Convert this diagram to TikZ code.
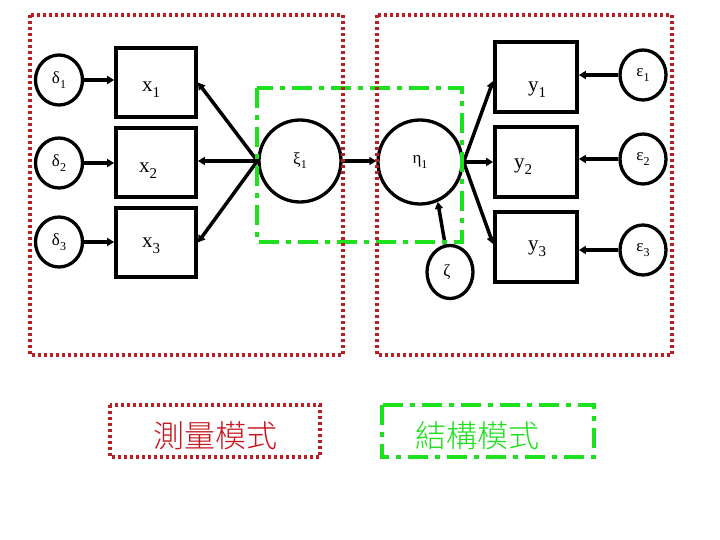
\documentclass[tikz,border=0pt]{standalone}
\usepackage{fontspec}
\setmainfont{Liberation Serif}
\newfontfamily\cjk{Noto Sans CJK TC Light}
\usetikzlibrary{arrows.meta,shapes.geometric}
\definecolor{dred}{RGB}{185,30,35}
\definecolor{lred}{RGB}{200,20,30}
\definecolor{lgreen}{RGB}{30,225,30}
\newcommand{\sbs}[1]{\raisebox{-0.3em}{\fontsize{15}{15}\selectfont #1}}
\newcommand{\gsb}[1]{\raisebox{-0.25em}{\fontsize{12}{12}\selectfont #1}}
\begin{document}
\begin{tikzpicture}[x=1pt,y=-1pt,
 obs/.style={draw,line width=3.8pt,minimum width=80pt,minimum height=69pt,inner sep=0pt},
 lat/.style={draw,fill=white,circle,line width=3.3pt,minimum size=82pt,inner sep=0pt,font=\fontsize{17}{19}\selectfont},
 err/.style={draw,fill=white,ellipse,line width=3.3pt,minimum width=46pt,minimum height=50pt,inner sep=0pt,font=\fontsize{17}{19}\selectfont},
 arr/.style={line width=3.5pt,-{Triangle[length=7pt,width=8pt]}},
 redbox/.style={draw=dred,line width=4pt,dash pattern=on 3pt off 3pt},
 greenbox/.style={draw=lgreen,line width=4pt,dash pattern=on 20pt off 7pt on 5pt off 7pt},
 big/.style={font=\fontsize{21}{24}\selectfont}]
\fill[white] (0,0) rectangle (720,540);
\useasboundingbox (0,0) rectangle (720,540);

% observed boxes
\node[obs] (x1) at (156,82.5) {};
\node[obs] (x2) at (156,162.5) {};
\node[obs] (x3) at (156,242.5) {};
\node[obs,minimum width=82pt,minimum height=70pt] (y1) at (536,77) {};
\node[obs,minimum width=82pt,minimum height=70pt] (y2) at (536,162) {};
\node[obs,minimum width=82pt,minimum height=70pt] (y3) at (536,247) {};
\node[big] (lx1) at (151,90) {x\sbs{1}};
\node[big] (lx2) at (148,171) {x\sbs{2}};
\node[big] (lx3) at (151,246) {x\sbs{3}};
\node[big] (ly1) at (537,90) {y\sbs{1}};
\node[big] (ly2) at (523,167) {y\sbs{2}};
\node[big] (ly3) at (537,249) {y\sbs{3}};

% error terms
\node[err,minimum width=47pt,minimum height=50pt] (d1) at (59,80) {δ\gsb{1}};
\node[err,minimum width=47pt,minimum height=50pt] (d2) at (59,163) {δ\gsb{2}};
\node[err,minimum width=47pt,minimum height=50pt] (d3) at (59,242) {δ\gsb{3}};
\node[err] (e1) at (643,75) {\raisebox{4pt}{ε\gsb{1}}};
\node[err] (e2) at (643,159) {ε\gsb{2}};
\node[err] (e3) at (643,250) {ε\gsb{3}};
\node[err,minimum width=46pt,minimum height=53pt] (zeta) at (450,272) {\raisebox{-4pt}{\hspace{-6pt}ζ}};

% latent variables
\node[lat] (xi) at (300,161) {\raisebox{5pt}{ξ\gsb{1}}};
\node[lat,minimum size=84pt] (eta) at (420,162) {\raisebox{-3pt}{η\gsb{1}}};

% connectors
\draw[arr] (d1.east) -- (d1.east -| x1.west);
\draw[arr] (d2.east) -- (d2.east -| x2.west);
\draw[arr] (d3.east) -- (d3.east -| x3.west);
\draw[arr] (xi.west) -- (x1.east);
\draw[arr] (xi.west) -- (xi.west -| x2.east);
\draw[arr] (xi.west) -- (x3.east);
\draw[arr] (xi.east) -- (xi.east -| eta.west);
\draw[arr] (eta.east) -- ([yshift=-4pt]y1.west);
\draw[arr] (eta.east) -- (eta.east -| y2.west);
\draw[arr] (eta.east) -- ([yshift=3pt]y3.west);
\draw[arr] (zeta.100) -- (eta.-66);
\draw[arr] (e1.west) -- (e1.west -| y1.east);
\draw[arr] (e2.west) -- (e2.west -| y2.east);
\draw[arr] (e3.west) -- (e3.west -| y3.east);

% grouping boxes
\draw[greenbox] (257,88) rectangle (462,242);
\draw[redbox] (30,15) rectangle (343,355);
\draw[redbox] (377,15) rectangle (672,355);

% legend
\draw[redbox] (110,405) rectangle (320,457);
\draw[greenbox] (382,405) rectangle (594,457);
\node[font=\cjk\fontsize{31}{33}\selectfont, text=lred] (lm) at (215,436) {測量模式};
\node[font=\cjk\fontsize{31}{33}\selectfont, text=lgreen] (ls) at (477,436) {結構模式};
\end{tikzpicture}
\end{document}
